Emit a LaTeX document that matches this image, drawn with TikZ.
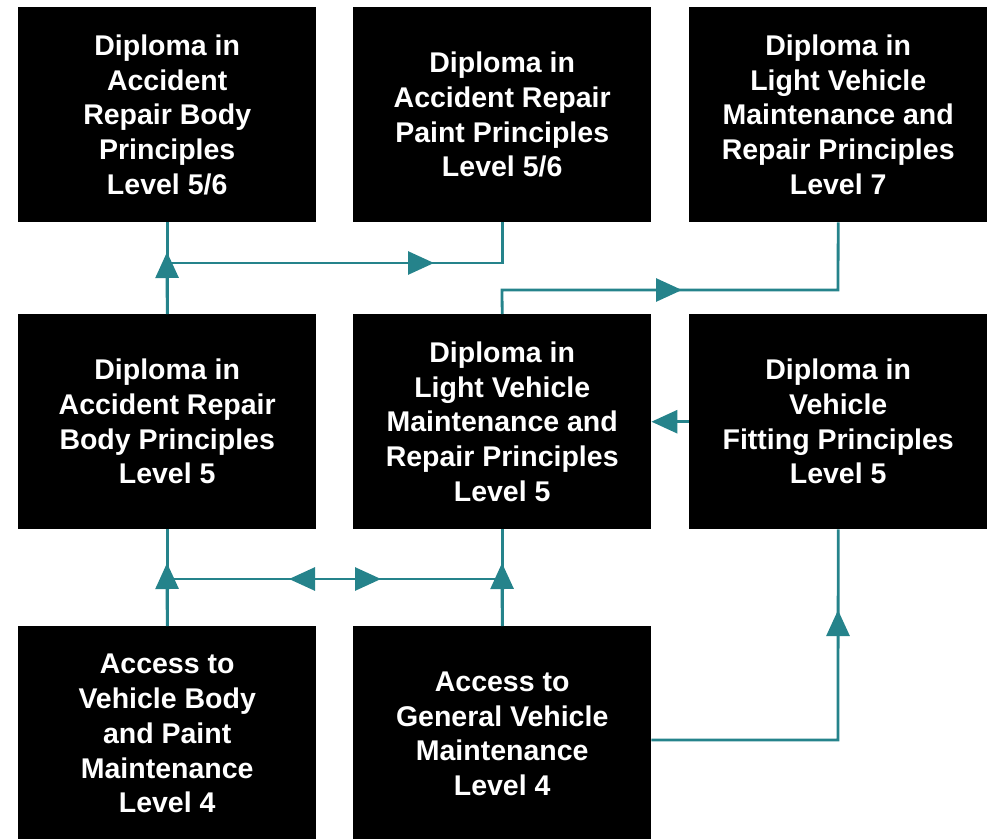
\documentclass[tikz,border=0pt]{standalone}
\usepackage{fontspec}
\setmainfont{Liberation Sans}
\usetikzlibrary{arrows.meta}
\definecolor{tealc}{RGB}{37,131,139}
\begin{document}
\begin{tikzpicture}[x=1pt,y=-1pt,
  box/.style={fill=black, draw=none, anchor=north west, minimum width=298pt, minimum height=215pt,
    inner sep=0pt, text=white, align=center,
    font=\fontsize{28.5}{34.7}\selectfont\bfseries},
  conn/.style={draw=tealc, line width=2.8pt},
  tip/.style={-{Triangle[length=26pt,width=23pt]}, draw=tealc, line width=2.8pt}]
\useasboundingbox (0,0) rectangle (995,838);
\begin{scope}
\clip (0,0) rectangle (995,838);
% top row
\node[box] (a1) at (18,7) {Diploma in\\Accident\\Repair Body\\Principles\\Level 5/6};
\node[box] (a2) at (353,7) {Diploma in\\Accident Repair\\Paint Principles\\Level 5/6};
\node[box] (a3) at (689,7) {Diploma in\\Light Vehicle\\Maintenance and\\Repair Principles\\Level 7};
% middle row
\node[box] (b1) at (18,314) {Diploma in\\Accident Repair\\Body Principles\\Level 5};
\node[box] (b2) at (353,314) {Diploma in\\Light Vehicle\\Maintenance and\\Repair Principles\\Level 5};
\node[box] (b3) at (689,314) {Diploma in\\Vehicle\\Fitting Principles\\Level 5};
% bottom row
\node[box] (c1) at (18,626) {Access to\\Vehicle Body\\and Paint\\Maintenance\\Level 4};
\node[box] (c2) at (353,626) {Access to\\General Vehicle\\Maintenance\\Level 4};
\end{scope}
% coordinates
\coordinate (j1) at (167,263);
\coordinate (j1up) at (167,252);
\coordinate (j1r) at (434,263);
\coordinate (k1) at (502,290);
\coordinate (k2) at (838,290);
\coordinate (k1r) at (682,290);
\coordinate (h1) at (167,579);
\coordinate (h2) at (502,579);
\coordinate (h1up) at (167,563);
\coordinate (h2up) at (502,563);
\coordinate (hl0) at (330,579);
\coordinate (hl) at (289,579);
\coordinate (hr0) at (340,579);
\coordinate (hr) at (381,579);
\coordinate (m) at (0,740);
\coordinate (m2) at (838,740);
\coordinate (m2up) at (838,610);
% connectors
\draw[conn] (b1.north) -- (a1.south);
\draw[tip] (b1.north) -- (j1up);
\draw[conn] (j1) -| (a2.south);
\draw[tip] (j1) -- (j1r);
\draw[conn] (b2.north) -- (k1) -- (k2) -- (a3.south);
\draw[tip] (k1) -- (k1r);
\draw[tip] (b3.west) -- (b2.east);
\draw[conn] (c1.north) -- (b1.south);
\draw[conn] (c2.north) -- (b2.south);
\draw[conn] (h1) -- (h2);
\draw[tip] (c1.north) -- (h1up);
\draw[tip] (c2.north) -- (h2up);
\draw[tip] (hl0) -- (hl);
\draw[tip] (hr0) -- (hr);
\draw[conn] (c2.east |- m) -- (m2) -- (b3.south);
\draw[tip] (m2) -- (m2up);
\end{tikzpicture}
\end{document}
